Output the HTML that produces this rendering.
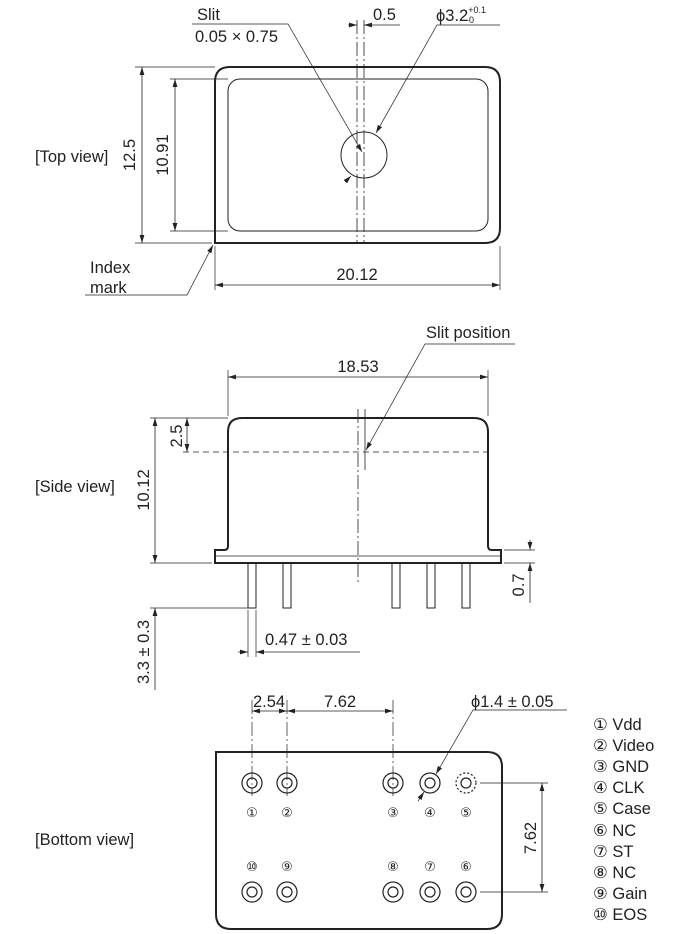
<!DOCTYPE html>
<html><head><meta charset="utf-8"><style>
html,body{margin:0;padding:0;background:#fff}
svg{display:block}
text{font-family:"Liberation Sans","DejaVu Sans",sans-serif;font-size:16.5px;fill:#222}
</style></head><body>
<svg width="700" height="934" viewBox="0 0 700 934" xmlns="http://www.w3.org/2000/svg">
<defs>
<marker id="a" viewBox="0 0 10 10" refX="10" refY="5" markerWidth="8" markerHeight="8" orient="auto-start-reverse" markerUnits="userSpaceOnUse"><path d="M0,2 L10,5 L0,8 z" fill="#222"/></marker>
</defs>
<g stroke="#222" fill="none" stroke-width="1">
<path d="M215,243 L215,82 Q215,67 230,67 L485,67 Q500,67 500,82 L500,228 Q500,243 485,243 Z" stroke-width="2"/>
<rect x="228" y="79" width="260" height="152" rx="12"/>
<circle cx="364" cy="155" r="23"/>
<line x1="357" y1="20" x2="357" y2="243" stroke-dasharray="14,3,2,3" stroke-width="0.8"/>
<line x1="364" y1="20" x2="364" y2="243" stroke-dasharray="14,3,2,3" stroke-width="0.8"/>
<line x1="135" y1="67" x2="215" y2="67" stroke-width="0.7"/>
<line x1="135" y1="243" x2="212" y2="243" stroke-width="0.7"/>
<line x1="142" y1="67" x2="142" y2="243" marker-start="url(#a)" marker-end="url(#a)" stroke-width="0.8"/>
<line x1="170" y1="79" x2="228" y2="79" stroke-width="0.7"/>
<line x1="170" y1="231" x2="228" y2="231" stroke-width="0.7"/>
<line x1="175" y1="79" x2="175" y2="231" marker-start="url(#a)" marker-end="url(#a)" stroke-width="0.8"/>
<line x1="215" y1="246" x2="215" y2="290" stroke-width="0.7"/>
<line x1="500" y1="246" x2="500" y2="290" stroke-width="0.7"/>
<line x1="215" y1="285" x2="500" y2="285" marker-start="url(#a)" marker-end="url(#a)" stroke-width="0.8"/>
<polyline points="192,24 288,24 362,152" stroke-width="0.7" marker-end="url(#a)"/>
<line x1="348" y1="25" x2="357" y2="25" marker-end="url(#a)" stroke-width="0.7"/>
<line x1="400" y1="25" x2="364" y2="25" marker-end="url(#a)" stroke-width="0.7"/>
<polyline points="500,25 437,25 376,133" stroke-width="0.7" marker-end="url(#a)"/>
<line x1="345" y1="182" x2="351" y2="176" stroke-width="0.7" marker-end="url(#a)"/>
<polyline points="85,295 187,295 213,245" stroke-width="0.7" marker-end="url(#a)"/>
<path d="M228,546 L228,432 Q228,418 242,418 L474,418 Q488,418 488,432 L488,546 Q488,550 492,550 L501,550 L501,563 L215,563 L215,550 L224,550 Q228,550 228,546 Z" stroke-width="2"/>
<line x1="215" y1="556" x2="501" y2="556" stroke-width="0.8"/>
<rect x="248" y="563" width="8" height="45"/>
<rect x="283" y="563" width="8" height="45"/>
<rect x="392" y="563" width="8" height="45"/>
<rect x="427" y="563" width="8" height="45"/>
<rect x="462" y="563" width="8" height="45"/>
<line x1="358" y1="409" x2="358" y2="582" stroke-dasharray="14,3,2,3" stroke-width="0.8"/>
<line x1="365" y1="409" x2="365" y2="470" stroke-width="0.8"/>
<line x1="183" y1="452" x2="492" y2="452" stroke-dasharray="6,4" stroke-width="0.7"/>
<line x1="228" y1="370" x2="228" y2="416" stroke-width="0.7"/>
<line x1="488" y1="370" x2="488" y2="416" stroke-width="0.7"/>
<line x1="228" y1="377" x2="488" y2="377" marker-start="url(#a)" marker-end="url(#a)" stroke-width="0.8"/>
<polyline points="515,344 425,344 366,450" stroke-width="0.7" marker-end="url(#a)"/>
<line x1="150" y1="418" x2="228" y2="418" stroke-width="0.7"/>
<line x1="150" y1="563" x2="212" y2="563" stroke-width="0.7"/>
<line x1="155" y1="418" x2="155" y2="563" marker-start="url(#a)" marker-end="url(#a)" stroke-width="0.8"/>
<line x1="187" y1="418" x2="187" y2="452" marker-start="url(#a)" marker-end="url(#a)" stroke-width="0.8"/>
<line x1="150" y1="608" x2="248" y2="608" stroke-width="0.7"/>
<line x1="155" y1="690" x2="155" y2="608" marker-end="url(#a)" stroke-width="0.8"/>
<line x1="504" y1="550" x2="535" y2="550" stroke-width="0.7"/>
<line x1="504" y1="563" x2="535" y2="563" stroke-width="0.7"/>
<line x1="530" y1="540" x2="530" y2="550" marker-end="url(#a)" stroke-width="0.8"/>
<line x1="530" y1="603" x2="530" y2="563" marker-end="url(#a)" stroke-width="0.8"/>
<line x1="248" y1="610" x2="248" y2="657" stroke-width="0.7"/>
<line x1="256" y1="610" x2="256" y2="657" stroke-width="0.7"/>
<line x1="238" y1="652" x2="248" y2="652" marker-end="url(#a)" stroke-width="0.7"/>
<line x1="360" y1="652" x2="256" y2="652" marker-end="url(#a)" stroke-width="0.7"/>
<path d="M216,752 L487,752 Q502,752 502,767 L502,914 Q502,929 487,929 L231,929 Q216,929 216,914 Z" stroke-width="2"/>
<g stroke-width="1.2">
<circle cx="252" cy="783" r="10"/><circle cx="252" cy="783" r="5"/>
<circle cx="287" cy="783" r="10"/><circle cx="287" cy="783" r="5"/>
<circle cx="393" cy="783" r="10"/><circle cx="393" cy="783" r="5"/>
<circle cx="430" cy="783" r="10"/><circle cx="430" cy="783" r="5"/>
<circle cx="466" cy="783" r="10" stroke-dasharray="2,2"/><circle cx="466" cy="783" r="5"/>
<circle cx="252" cy="892" r="10"/><circle cx="252" cy="892" r="5"/>
<circle cx="287" cy="892" r="10"/><circle cx="287" cy="892" r="5"/>
<circle cx="393" cy="892" r="10"/><circle cx="393" cy="892" r="5"/>
<circle cx="430" cy="892" r="10"/><circle cx="430" cy="892" r="5"/>
<circle cx="466" cy="892" r="10"/><circle cx="466" cy="892" r="5"/>
</g>
<line x1="252" y1="700" x2="252" y2="796" stroke-dasharray="14,3,2,3" stroke-width="0.7"/>
<line x1="287" y1="700" x2="287" y2="796" stroke-dasharray="14,3,2,3" stroke-width="0.7"/>
<line x1="393" y1="700" x2="393" y2="796" stroke-dasharray="14,3,2,3" stroke-width="0.7"/>
<line x1="252" y1="711" x2="287" y2="711" marker-start="url(#a)" marker-end="url(#a)" stroke-width="0.7"/>
<line x1="287" y1="711" x2="393" y2="711" marker-start="url(#a)" marker-end="url(#a)" stroke-width="0.7"/>
<polyline points="567,710 473,710 436,774" stroke-width="0.7" marker-end="url(#a)"/>
<line x1="418" y1="801" x2="424" y2="792" stroke-width="0.7" marker-end="url(#a)"/>
<line x1="480" y1="783" x2="548" y2="783" stroke-width="0.7"/>
<line x1="480" y1="892" x2="548" y2="892" stroke-width="0.7"/>
<line x1="542" y1="783" x2="542" y2="892" marker-start="url(#a)" marker-end="url(#a)" stroke-width="0.8"/>
</g>
<text x="197" y="20">Slit</text>
<text x="195" y="42">0.05 × 0.75</text>
<text x="373" y="20">0.5</text>
<text x="436" y="21">ϕ3.2<tspan style="font-size:9px" dy="-8">+0.1</tspan><tspan style="font-size:9px" dx="-20" dy="10">-0</tspan></text>
<text x="35" y="162">[Top view]</text>
<text transform="translate(135,155) rotate(-90)" text-anchor="middle">12.5</text>
<text transform="translate(168,155) rotate(-90)" text-anchor="middle">10.91</text>
<text x="357" y="280" text-anchor="middle">20.12</text>
<text x="90" y="273">Index</text>
<text x="90" y="293">mark</text>
<text x="426" y="338">Slit position</text>
<text x="358" y="372" text-anchor="middle">18.53</text>
<text x="35" y="492">[Side view]</text>
<text transform="translate(149,490) rotate(-90)" text-anchor="middle">10.12</text>
<text transform="translate(182,436) rotate(-90)" text-anchor="middle">2.5</text>
<text transform="translate(149,652) rotate(-90)" text-anchor="middle">3.3 ± 0.3</text>
<text transform="translate(524,585) rotate(-90)" text-anchor="middle">0.7</text>
<text x="265" y="645">0.47 ± 0.03</text>
<text x="269" y="707" text-anchor="middle">2.54</text>
<text x="340" y="707" text-anchor="middle">7.62</text>
<text x="471" y="707">ϕ1.4 ± 0.05</text>
<text transform="translate(536,838) rotate(-90)" text-anchor="middle">7.62</text>
<text x="35" y="845">[Bottom view]</text>
<text x="252" y="817" text-anchor="middle" style="font-size:13px">①</text>
<text x="287" y="817" text-anchor="middle" style="font-size:13px">②</text>
<text x="393" y="817" text-anchor="middle" style="font-size:13px">③</text>
<text x="430" y="817" text-anchor="middle" style="font-size:13px">④</text>
<text x="466" y="817" text-anchor="middle" style="font-size:13px">⑤</text>
<text x="252" y="871" text-anchor="middle" style="font-size:13px">⑩</text>
<text x="287" y="871" text-anchor="middle" style="font-size:13px">⑨</text>
<text x="393" y="871" text-anchor="middle" style="font-size:13px">⑧</text>
<text x="430" y="871" text-anchor="middle" style="font-size:13px">⑦</text>
<text x="466" y="871" text-anchor="middle" style="font-size:13px">⑥</text>
<text x="593" y="730">① Vdd</text>
<text x="593" y="751">② Video</text>
<text x="593" y="772">③ GND</text>
<text x="593" y="793">④ CLK</text>
<text x="593" y="814">⑤ Case</text>
<text x="593" y="836">⑥ NC</text>
<text x="593" y="857">⑦ ST</text>
<text x="593" y="878">⑧ NC</text>
<text x="593" y="899">⑨ Gain</text>
<text x="593" y="920">⑩ EOS</text>
</svg>
</body></html>
